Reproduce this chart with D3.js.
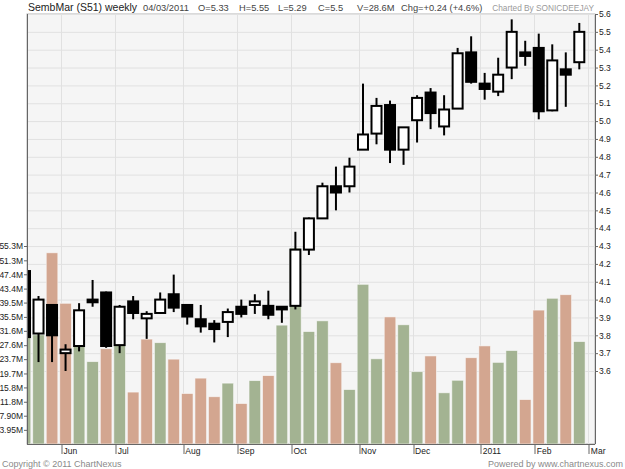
<!DOCTYPE html>
<html><head><meta charset="utf-8">
<script src="https://cdn.jsdelivr.net/npm/d3@7"></script>
<style>
body{margin:0;background:#fff;}
svg{display:block;font-family:"Liberation Sans",Arial,sans-serif;}
</style>
</head><body>
<svg id="c" width="625" height="469"></svg>
<script>
// ---- data (weekly bars, week ending Friday) ----
const weeks = ["2010-05-21","2010-05-28","2010-06-04","2010-06-11","2010-06-18","2010-06-25",
  "2010-07-02","2010-07-09","2010-07-16","2010-07-23","2010-07-30","2010-08-06","2010-08-13",
  "2010-08-20","2010-08-27","2010-09-03","2010-09-10","2010-09-17","2010-09-24","2010-10-01",
  "2010-10-08","2010-10-15","2010-10-22","2010-10-29","2010-11-05","2010-11-12","2010-11-19",
  "2010-11-26","2010-12-03","2010-12-10","2010-12-17","2010-12-24","2010-12-31","2011-01-07",
  "2011-01-14","2011-01-21","2011-01-28","2011-02-04","2011-02-11","2011-02-18","2011-02-25",
  "2011-03-04"];
const openP  = [4.16,3.81,3.97,3.70,3.74,4.00,4.04,3.745,3.99,3.895,3.925,4.03,3.97,3.89,3.865,3.875,3.96,3.97,3.965,3.96,
  3.965,4.28,4.455,4.635,4.635,4.84,4.93,5.09,4.84,5.005,5.16,4.97,5.07,5.385,5.21,5.165,5.30,5.385,5.41,5.06,5.29,5.33];
const highP  = [4.16,4.02,3.97,3.75,3.98,4.11,4.045,3.97,4.02,3.935,4.04,4.14,3.975,3.97,3.885,3.95,4.00,4.03,4.05,3.96,
  4.38,4.46,4.655,4.745,4.795,5.21,5.13,5.115,4.965,5.145,5.185,5.145,5.41,5.475,5.27,5.355,5.57,5.45,5.49,5.43,5.385,5.55];
const lowP   = [3.78,3.65,3.65,3.60,3.71,3.96,3.73,3.70,3.89,3.78,3.92,3.93,3.86,3.815,3.76,3.79,3.90,3.92,3.89,3.87,
  3.945,4.25,4.455,4.50,4.60,4.84,4.87,4.765,4.755,4.88,4.955,4.92,5.07,5.21,5.12,5.14,5.235,5.31,5.01,5.055,5.08,5.29];
const closeP = [3.79,4.00,3.80,3.72,3.94,3.985,3.74,3.96,3.925,3.92,4.00,3.955,3.905,3.85,3.835,3.93,3.92,3.99,3.915,3.945,
  4.28,4.455,4.635,4.60,4.745,4.925,5.085,4.84,4.965,5.13,5.045,5.065,5.38,5.22,5.18,5.26,5.50,5.365,5.055,5.34,5.26,5.50];
const volumeM = [33.0,30.5,53.4,39.3,27.2,23.0,26.6,27.6,14.5,29.3,28.3,23.7,14.1,18.4,13.2,17.0,11.3,17.7,19.1,33.2,
  54.7,31.4,34.4,22.7,15.2,44.6,23.8,35.5,33.3,20.2,24.6,14.3,17.8,24.1,27.4,22.8,26.1,12.4,37.4,40.7,41.7,28.6];

const priceTicks = [3.6,3.7,3.8,3.9,4.0,4.1,4.2,4.3,4.4,4.5,4.6,4.7,4.8,4.9,5.0,5.1,5.2,5.3,5.4,5.5,5.6];
const volTicks = [3.95,7.90,11.8,15.8,19.7,23.7,27.6,31.6,35.5,39.5,43.4,47.4,51.3,55.3];
const volTickLabels = ["3.95M","7.90M","11.8M","15.8M","19.7M","23.7M","27.6M","31.6M","35.5M","39.5M","43.4M","47.4M","51.3M","55.3M"];
const monthLabels = ["Jun","Jul","Aug","Sep","Oct","Nov","Dec","2011","Feb","Mar"];

const headerTitle = "SembMar (S51) weekly";
const headerItems = ["04/03/2011","O=5.33","H=5.55","L=5.29","C=5.5","V=28.6M","Chg=+0.24 (+4.6%)"];
const chartedBy = "Charted By SONICDEEJAY";

// ---- layout ----
const L = 27, R = 595, T = 14, B = 444;
const svg = d3.select("#c");

const x = d3.scaleLinear().domain([0, weeks.length - 1]).range([25, 579.3]);
const yP = d3.scaleLinear().domain([3.6, 5.6]).range([371, 14]);
const yV = d3.scaleLinear().domain([0, 55.3]).range([B, 246]);

const parse = d3.timeParse("%Y-%m-%d");
const dates = weeks.map(parse);
const monthIdx = [];
dates.forEach((d, i) => { if (i > 0 && d.getMonth() !== dates[i-1].getMonth()) monthIdx.push(i); });
const tickPos = monthIdx.map(i => i + 0.67);

// background
svg.append("rect").attr("x", L).attr("y", T).attr("width", R - L).attr("height", B - T)
  .attr("fill", "#f5f5f5").attr("stroke", "#b5b5b5");

// grid
const grid = svg.append("g");
grid.selectAll("line.h").data(priceTicks).join("line")
  .attr("x1", L).attr("x2", R).attr("y1", d => yP(d) + 0.5).attr("y2", d => yP(d) + 0.5)
  .attr("stroke", "#e1e1e1");
grid.selectAll("line.v").data(tickPos).join("line")
  .attr("y1", T).attr("y2", B).attr("x1", d => Math.round(x(d)) + 0.5).attr("x2", d => Math.round(x(d)) + 0.5)
  .attr("stroke", "#e1e1e1");

svg.append("clipPath").attr("id", "clip").append("rect")
  .attr("x", L + 1).attr("y", T).attr("width", R - L - 1).attr("height", B - T);
const plot = svg.append("g").attr("clip-path", "url(#clip)");

// volume bars
const barW = 11.6;
plot.selectAll("rect.vol").data(volumeM).join("rect")
  .attr("x", (d, i) => x(i) - barW / 2)
  .attr("width", barW)
  .attr("y", d => yV(d))
  .attr("height", d => B - yV(d))
  .attr("fill", (d, i) => (i === 0 || closeP[i] >= closeP[i-1]) ? "#a3b392" : "#d3a690")
  .attr("stroke", "#fbfbfb").attr("stroke-width", 0.8).attr("stroke-opacity", 0.7);

// candles
const idx = d3.range(weeks.length);
plot.selectAll("line.wick").data(idx).join("line")
  .attr("x1", i => x(i)).attr("x2", i => x(i))
  .attr("y1", i => yP(highP[i])).attr("y2", i => yP(lowP[i]))
  .attr("stroke", "#000").attr("stroke-width", 2);
const bodyW = 10;
plot.selectAll("rect.body").data(idx).join("rect")
  .attr("x", i => x(i) - bodyW / 2)
  .attr("width", bodyW)
  .attr("y", i => yP(Math.max(openP[i], closeP[i])))
  .attr("height", i => Math.max(1, Math.abs(yP(openP[i]) - yP(closeP[i]))))
  .attr("fill", i => closeP[i] > openP[i] ? "#fff" : "#000")
  .attr("stroke", "#000").attr("stroke-width", 2);

// axes
const fontAxis = 8.5;
const rightAxis = svg.append("g").attr("transform", `translate(${R},0)`)
  .call(d3.axisRight(yP).tickValues(priceTicks).tickSize(3).tickPadding(1).tickFormat(d3.format(".1f")));
const leftAxis = svg.append("g").attr("transform", `translate(${L},0)`)
  .call(d3.axisLeft(yV).tickValues(volTicks).tickSize(3).tickPadding(1).tickFormat((d, i) => volTickLabels[i]));
const bottomAxis = svg.append("g").attr("transform", `translate(0,${B})`)
  .call(d3.axisBottom(x).tickValues(tickPos).tickSize(10).tickFormat((d, i) => monthLabels[i]));
bottomAxis.selectAll("text").attr("text-anchor", "start").attr("x", 2).attr("y", 4);
[rightAxis, leftAxis, bottomAxis].forEach(g => {
  g.select(".domain").remove();
  g.selectAll("line").attr("stroke", "#666");
  g.selectAll("text").attr("font-size", fontAxis).attr("fill", "#222")
    .attr("font-family", '"Liberation Sans",Arial,sans-serif');
});
bottomAxis.selectAll(".tick line").attr("transform", d => `translate(${Math.round(x(d)) + 0.5 - x(d)},0)`);

// frame lines
svg.append("line").attr("x1", L + 0.5).attr("x2", L + 0.5).attr("y1", T).attr("y2", B).attr("stroke", "#666");
svg.append("line").attr("x1", R + 0.5).attr("x2", R + 0.5).attr("y1", T).attr("y2", B).attr("stroke", "#666");
svg.append("line").attr("x1", L).attr("x2", R).attr("y1", B + 0.5).attr("y2", B + 0.5).attr("stroke", "#666");

// header
svg.append("text").attr("x", 28).attr("y", 11).attr("font-size", 10.5).attr("fill", "#222").text(headerTitle);
const headerX = [143, 198, 239, 278, 318, 357, 401];
svg.selectAll("text.hdr").data(headerItems).join("text")
  .attr("x", (d, i) => headerX[i]).attr("y", 11).attr("font-size", 9.3).attr("fill", "#444").text(d => d);
svg.append("text").attr("x", 594).attr("y", 11).attr("text-anchor", "end")
  .attr("font-size", 8.3).attr("fill", "#9a9a9a").text(chartedBy);

// footer
svg.append("text").attr("x", 2).attr("y", 467).attr("font-size", 9).attr("fill", "#8a8a8a").text("Copyright © 2011 ChartNexus");
svg.append("text").attr("x", 623).attr("y", 467).attr("text-anchor", "end").attr("font-size", 9).attr("fill", "#8a8a8a").text("Powered by www.chartnexus.com");
</script>
</body></html>
